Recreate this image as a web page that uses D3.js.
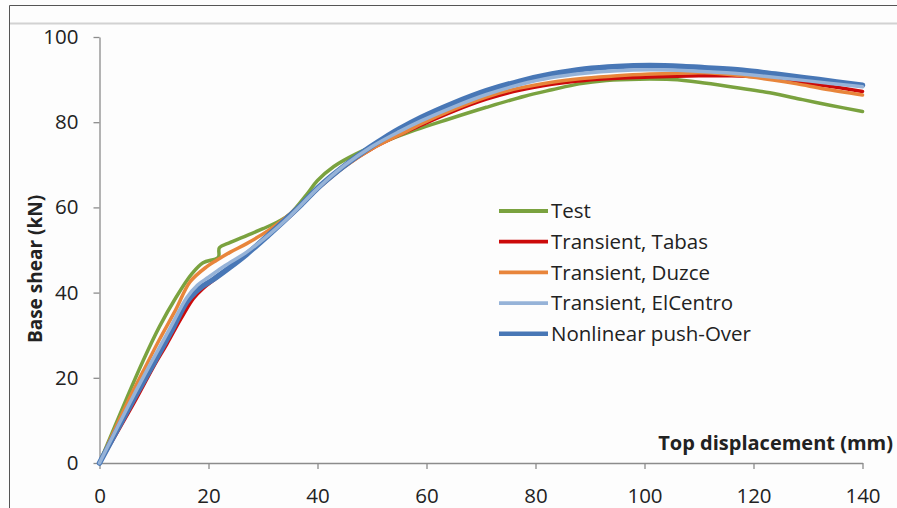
<!DOCTYPE html>
<html>
<head>
<meta charset="utf-8">
<script src="https://cdn.jsdelivr.net/npm/d3@7"></script>
<style>
  html, body { margin: 0; padding: 0; background: #ffffff; }
  svg { display: block; }
  text { font-family: "Open Sans", "Liberation Sans", sans-serif; fill: #222; }
</style>
</head>
<body>
<svg id="chart" width="897" height="508"></svg>
<script>
// Base shear vs top displacement: test result, three transient analyses and a push-over curve.
const seriesNames = ["Test", "Transient, Tabas", "Transient, Duzce", "Transient, ElCentro", "Nonlinear push-Over"];
const seriesColors = ["#7aa23f", "#cc0a0a", "#e8853b", "#96b3d8", "#4877b6"];

const testCurve = [[0,0],[5,15.2],[8,24],[11,32],[14,38.8],[17,44.5],[19,47],[21.8,48.3],[22,50.5],[24,51.8],[27,53.4],[30,55],[33,56.8],[35,58.5],[38,63],[40,66.3],[43,69.6],[47,72.5],[52,75.3],[58,78.2],[64,80.7],[71,83.5],[78,86.1],[83,87.6],[88,89],[93,89.8],[99,90.1],[105,90],[110,89.4],[117,88.1],[123,86.9],[129,85.3],[134,84],[140,82.5]];
const tabasCurve = [[0,0],[6.5,14.5],[10,22.8],[12.3,27.8],[15,34],[17.2,38.6],[19,41],[21,43],[24,46],[27,49],[31,53.5],[35,58],[40,64.3],[45,69.7],[50,73.8],[55,77],[59,79.3],[65,82.6],[71,85.4],[77,87.5],[83,88.9],[89,89.8],[95,90.3],[101,90.6],[106,90.8],[111,90.9],[116,90.9],[121,90.6],[127,89.6],[133,88.6],[140,87.2]];
const duzceCurve = [[0,0],[5.5,15.2],[8,21.5],[11,29],[14,36],[16.6,42.5],[19.7,46.1],[21.5,47.6],[24,49.5],[27,51.5],[31,54.6],[35,58.5],[40,64.4],[45,69.6],[50,73.8],[55,77],[59,79.6],[65,83],[71,85.9],[77,88],[83,89.4],[89,90.3],[95,90.9],[101,91.3],[106,91.5],[111,91.6],[117,91],[123.6,89.9],[128,89],[133,87.8],[140,86.4]];
const elCentroCurve = [[0,0],[6,15.2],[10,24.8],[13,31.8],[16,38.8],[18,41.8],[20,43.6],[23,46.3],[27,49.5],[31,53.5],[35,58],[40,64.4],[45,69.9],[50,74.3],[55,77.8],[59,80.3],[65,83.6],[71,86.5],[77,88.8],[83,90.5],[89,91.5],[95,92.1],[101,92.3],[108,92.1],[115,91.6],[122,90.8],[130,89.7],[140,88.3]];
const pushOverCurve = [[0,0],[6.2,14.8],[10,23.5],[13,30.5],[16,37.8],[17.5,40],[19,41.6],[21,43.2],[24,46],[27,49],[31,53.5],[34,57],[37,60.6],[40,64.5],[43,67.8],[46,70.8],[49,73.6],[52,76.1],[55,78.4],[59,81.1],[65,84.5],[71,87.4],[77,89.6],[83,91.3],[89,92.5],[95,93.1],[101,93.3],[107,93.1],[111,92.8],[118,92.2],[124,91.3],[132,90],[140,88.7]];

const xTicks = [0, 20, 40, 60, 80, 100, 120, 140];
const yTicks = [0, 20, 40, 60, 80, 100];
const xTitle = "Top displacement (mm)";
const yTitle = "Base shear (kN)";

const curves = [testCurve, tabasCurve, duzceCurve, elCentroCurve, pushOverCurve];
const widths = [3.5, 3.5, 3.5, 3.5, 5.5];
// painting order: test underneath, push-over and ElCentro on top
const drawOrder = [0, 1, 2, 4, 3];

const svg = d3.select("#chart");
const W = 897, H = 508;

// page frame
svg.append("rect").attr("x", 0).attr("y", 0).attr("width", W).attr("height", H).attr("fill", "#fdfdfd");
svg.append("path").attr("d", `M9.5,${H} V5.5 H${W}`).attr("fill", "none").attr("stroke", "#555").attr("stroke-width", 1);
svg.append("line").attr("x1", 10).attr("x2", W).attr("y1", 23.5).attr("y2", 23.5).attr("stroke", "#d2d2d2").attr("stroke-width", 2);

const x = d3.scaleLinear().domain([0, 140]).range([99.5, 862.5]);
const y = d3.scaleLinear().domain([0, 100]).range([463, 37]);

// axes
const xAxis = svg.append("g").attr("transform", `translate(0,${y(0)})`)
  .call(d3.axisBottom(x).tickValues(xTicks).tickSize(6).tickSizeOuter(0).tickPadding(19));
const yAxis = svg.append("g").attr("transform", `translate(${x(0)},0)`)
  .call(d3.axisLeft(y).tickValues(yTicks).tickSize(6).tickSizeOuter(0).tickPadding(15));
[xAxis, yAxis].forEach(g => {
  g.select(".domain").attr("stroke", "#8c8c8c").attr("stroke-width", 1.3);
  g.selectAll(".tick line").attr("stroke", "#8c8c8c").attr("stroke-width", 1.3);
  g.selectAll(".tick text").attr("font-size", 20.5).attr("font-family", "'Open Sans', sans-serif").attr("fill", "#222");
});

// series
const line = d3.line().x(d => x(d[0])).y(d => y(d[1])).curve(d3.curveCatmullRom.alpha(0.5));
drawOrder.forEach(i => {
  svg.append("path").datum(curves[i])
    .attr("d", line)
    .attr("fill", "none")
    .attr("stroke", seriesColors[i])
    .attr("stroke-width", widths[i])
    .attr("stroke-linejoin", "round")
    .attr("stroke-linecap", "round");
});

// axis titles
svg.append("text").attr("x", 893).attr("y", 450).attr("text-anchor", "end")
  .attr("font-size", 20).attr("font-weight", "bold").text(xTitle);
svg.append("text").attr("transform", `translate(42,269) rotate(-90)`).attr("text-anchor", "middle")
  .attr("font-size", 19).attr("font-weight", "bold").text(yTitle);

// legend
const legend = svg.append("g").attr("transform", "translate(499,211)");
seriesNames.forEach((name, i) => {
  const row = legend.append("g").attr("transform", `translate(0,${i * 30.7})`);
  row.append("line").attr("x1", 0).attr("x2", 49).attr("y1", 0).attr("y2", 0)
    .attr("stroke", seriesColors[i]).attr("stroke-width", i === 4 ? 4.5 : 3.8);
  row.append("text").attr("x", 52).attr("y", 0).attr("dy", "0.35em")
    .attr("font-size", 20.5).text(name);
});
</script>
</body>
</html>
